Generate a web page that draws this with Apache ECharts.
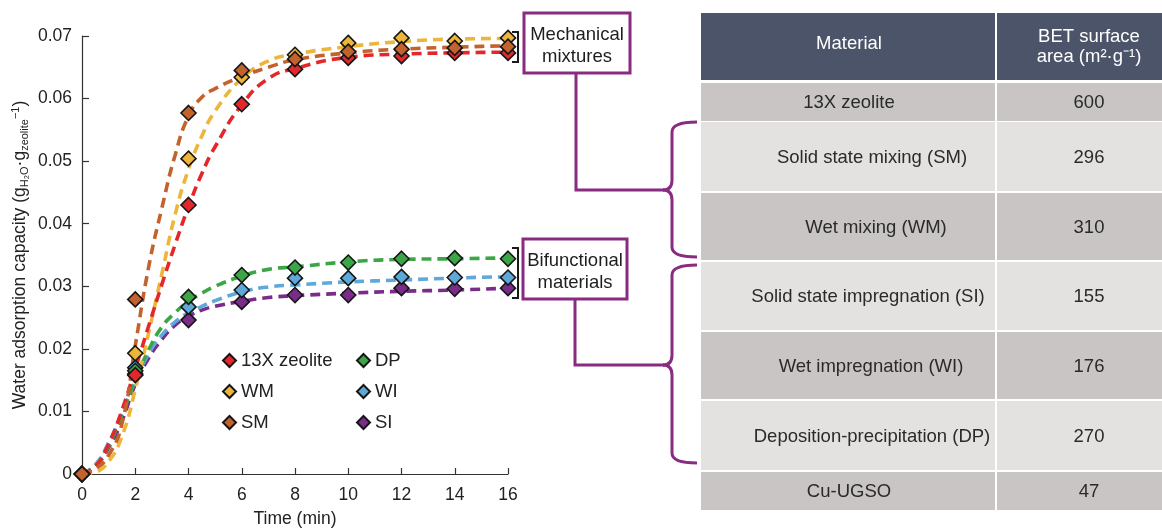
<!DOCTYPE html>
<html>
<head>
<meta charset="utf-8">
<script src="https://cdn.jsdelivr.net/npm/echarts@6/dist/echarts.min.js"></script>
<style>
  html, body { margin: 0; padding: 0; background: #ffffff; }
  #chart { width: 1162px; height: 528px; }
</style>
</head>
<body>
<div id="chart"></div>
<script>
// Measured water uptake (g H2O per g zeolite) at each sampling time (min)
const sampleTime = [0, 2, 4, 6, 8, 10, 12, 14, 16];
const zeolite13X = [0, 0.0158, 0.0430, 0.0591, 0.0647, 0.0665, 0.0668, 0.0673, 0.0673];
const wetMixing  = [0, 0.0193, 0.0504, 0.0634, 0.0670, 0.0689, 0.0697, 0.0692, 0.0697];
const solidMixing = [0, 0.0279, 0.0577, 0.0645, 0.0663, 0.0675, 0.0679, 0.0681, 0.0683];
const depPrecip  = [0, 0.0165, 0.0283, 0.0318, 0.0330, 0.0338, 0.0344, 0.0345, 0.0344];
const wetImpreg  = [0, 0.0170, 0.0267, 0.0294, 0.0313, 0.0313, 0.0315, 0.0314, 0.0314];
const solidImpreg = [0, 0.0160, 0.0246, 0.0275, 0.0286, 0.0286, 0.0297, 0.0296, 0.0297];

// Fitted kinetic curves (dashed), sampled along time
const fitTime = [0, 0.5, 1, 1.5, 2, 2.5, 3, 3.5, 4, 4.5, 5, 6, 7, 8, 10, 12, 14, 16, 16.8];
const fit13X = [0, 0.0012, 0.0048, 0.0102, 0.0168, 0.0236, 0.0303, 0.0367, 0.0427, 0.0480, 0.0523, 0.0590, 0.0632, 0.0648, 0.0666, 0.0671, 0.0673, 0.0674, 0.0674];
const fitWM  = [0, 0.0003, 0.0020, 0.0060, 0.0135, 0.0225, 0.0320, 0.0415, 0.0487, 0.0540, 0.0580, 0.0632, 0.0660, 0.0671, 0.0683, 0.0691, 0.0695, 0.0696, 0.0696];
const fitSM  = [0, 0.0008, 0.0030, 0.0080, 0.0205, 0.0330, 0.0425, 0.0510, 0.0572, 0.0602, 0.0616, 0.0635, 0.0650, 0.0662, 0.0673, 0.0679, 0.0682, 0.0684, 0.0684];
const fitDP  = [0, 0.0012, 0.0045, 0.0095, 0.0150, 0.0198, 0.0235, 0.0258, 0.0276, 0.0289, 0.0300, 0.0316, 0.0327, 0.0331, 0.0339, 0.0343, 0.0344, 0.0345, 0.0345];
const fitWI  = [0, 0.0015, 0.0050, 0.0098, 0.0148, 0.0192, 0.0222, 0.0243, 0.0258, 0.0268, 0.0277, 0.0291, 0.0299, 0.0302, 0.0307, 0.0310, 0.0313, 0.0315, 0.0315];
const fitSI  = [0, 0.0012, 0.0042, 0.0085, 0.0143, 0.0185, 0.0215, 0.0238, 0.0252, 0.0262, 0.0268, 0.0276, 0.0282, 0.0285, 0.0289, 0.0292, 0.0294, 0.0297, 0.0298];

// BET table
const tableHeader = ['Material', 'BET surface\narea (m²·g⁻¹)'];
const tableMaterials = ['13X zeolite', 'Solid state mixing (SM)', 'Wet mixing (WM)',
  'Solid state impregnation (SI)', 'Wet impregnation (WI)', 'Deposition-precipitation (DP)', 'Cu-UGSO'];
const tableBET = [600, 296, 310, 155, 176, 270, 47];

const groupLabels = [['Mechanical', 'mixtures'], ['Bifunctional', 'materials']];

const FONT = '"Liberation Sans", Arial, Helvetica, sans-serif';
const PURPLE = '#8a2b82';
const TABLE_FONT = '18.5px ' + FONT;

const colors = {
  '13X zeolite': '#e3272b',
  'WM': '#edb53a',
  'SM': '#c3622c',
  'DP': '#3ca646',
  'WI': '#5ea8da',
  'SI': '#7a2c88'
};

function pairs(xs, ys) { return xs.map((x, i) => [x, ys[i]]); }

function fitSeries(name, ys) {
  return {
    type: 'line', name: name + ' fit', data: pairs(fitTime, ys),
    smooth: 0.5, showSymbol: false, symbol: 'none',
    clip: false, silent: true, z: 2,
    lineStyle: { color: colors[name], width: 3.6, type: [10, 6], cap: 'butt' }
  };
}

function markerSeries(name, ys) {
  return {
    type: 'scatter', name: name, data: pairs(sampleTime, ys),
    symbol: 'diamond', symbolSize: 15, z: 4, clip: false,
    itemStyle: { color: colors[name], borderColor: '#161616', borderWidth: 1.6, opacity: 1 }
  };
}

// Table layout
const tableLeft = 701, tableSplit = 996, tableRight = 1182;
const rowBounds = [[83, 121], [122, 191], [193, 260], [262, 330], [332, 399], [401, 470], [472, 510]];
const rowFill = ['#c9c5c5', '#e4e1e1', '#c9c5c5', '#e4e1e1', '#c9c5c5', '#e4e1e1', '#c9c5c5'];
const rowTextX = [849, 872, 876, 868, 871, 872, 849];

const graphics = [];
// header
graphics.push({ type: 'rect', shape: { x: tableLeft, y: 13, width: tableSplit - tableLeft - 1, height: 67 }, style: { fill: '#4c5469' }, z: 0 });
graphics.push({ type: 'rect', shape: { x: tableSplit + 1, y: 13, width: tableRight - tableSplit, height: 67 }, style: { fill: '#4c5469' }, z: 0 });
graphics.push({ type: 'text', x: 849, y: 44, style: { text: tableHeader[0], font: TABLE_FONT, fill: '#ffffff', align: 'center', verticalAlign: 'middle' }, z: 1 });
graphics.push({ type: 'text', x: 1089, y: 47, style: { text: tableHeader[1], font: TABLE_FONT, fill: '#ffffff', align: 'center', verticalAlign: 'middle', lineHeight: 20 }, z: 1 });
// body rows
tableMaterials.forEach((m, i) => {
  const [y0, y1] = rowBounds[i];
  graphics.push({ type: 'rect', shape: { x: tableLeft, y: y0, width: tableSplit - tableLeft - 1, height: y1 - y0 }, style: { fill: rowFill[i] }, z: 0 });
  graphics.push({ type: 'rect', shape: { x: tableSplit + 1, y: y0, width: tableRight - tableSplit, height: y1 - y0 }, style: { fill: rowFill[i] }, z: 0 });
  graphics.push({ type: 'text', x: rowTextX[i], y: (y0 + y1) / 2 + 1, style: { text: m, font: TABLE_FONT, fill: '#2a2a2a', align: 'center', verticalAlign: 'middle' }, z: 1 });
  graphics.push({ type: 'text', x: 1089, y: (y0 + y1) / 2 + 1, style: { text: String(tableBET[i]), font: TABLE_FONT, fill: '#2a2a2a', align: 'center', verticalAlign: 'middle' }, z: 1 });
});

// group boxes
const boxes = [
  { x: 524, y: 13, w: 106, h: 60, cx: 577 },
  { x: 523, y: 239, w: 104, h: 60, cx: 575 }
];
boxes.forEach((b, i) => {
  graphics.push({ type: 'rect', shape: { x: b.x, y: b.y, width: b.w, height: b.h }, style: { fill: '#ffffff', stroke: PURPLE, lineWidth: 3 }, z: 0 });
  graphics.push({ type: 'text', x: b.cx, y: b.y + 22, style: { text: groupLabels[i][0], font: TABLE_FONT, fill: '#1e1e1e', align: 'center', verticalAlign: 'middle' }, z: 1 });
  graphics.push({ type: 'text', x: b.cx, y: b.y + 44, style: { text: groupLabels[i][1], font: TABLE_FONT, fill: '#1e1e1e', align: 'center', verticalAlign: 'middle' }, z: 1 });
});

// connectors from boxes to braces
const purpleLine = { stroke: PURPLE, lineWidth: 3, fill: null };
graphics.push({ type: 'polyline', shape: { points: [[576, 73], [576, 190], [664, 190]] }, style: purpleLine, z: 1 });
graphics.push({ type: 'polyline', shape: { points: [[575, 299], [575, 365], [664, 365]] }, style: purpleLine, z: 1 });

// curly braces beside table rows
function brace(top, mid, bottom) {
  const x = 672, hook = 697, r = 10;
  graphics.push({ type: 'bezierCurve', shape: { x1: hook, y1: top, cpx1: x, cpy1: top, x2: x, y2: top + r }, style: purpleLine, z: 1 });
  graphics.push({ type: 'line', shape: { x1: x, y1: top + r, x2: x, y2: mid - r }, style: purpleLine, z: 1 });
  graphics.push({ type: 'bezierCurve', shape: { x1: x, y1: mid - r, cpx1: x, cpy1: mid, x2: x - 9, y2: mid }, style: purpleLine, z: 1 });
  graphics.push({ type: 'bezierCurve', shape: { x1: x - 9, y1: mid, cpx1: x, cpy1: mid, x2: x, y2: mid + r }, style: purpleLine, z: 1 });
  graphics.push({ type: 'line', shape: { x1: x, y1: mid + r, x2: x, y2: bottom - r }, style: purpleLine, z: 1 });
  graphics.push({ type: 'bezierCurve', shape: { x1: x, y1: bottom - r, cpx1: x, cpy1: bottom, x2: hook, y2: bottom }, style: purpleLine, z: 1 });
}
brace(122, 190, 257);
brace(265, 365, 463);

// black brackets grouping the curve ends
const blackLine = { stroke: '#1a1a1a', lineWidth: 2, fill: null };
graphics.push({ type: 'polyline', shape: { points: [[512, 32], [518, 32], [518, 62], [512, 62]] }, style: blackLine, z: 5 });
graphics.push({ type: 'polyline', shape: { points: [[512, 248], [518, 248], [518, 298], [512, 298]] }, style: blackLine, z: 5 });

const legendText = { fontSize: 18.5, color: '#222', fontFamily: FONT };

const option = {
  animation: false,
  backgroundColor: '#ffffff',
  textStyle: { fontFamily: FONT },
  grid: { left: 82, right: 654, top: 36, bottom: 54, outerBoundsMode: 'none' },
  legend: [
    {
      data: ['13X zeolite', 'WM', 'SM'], orient: 'vertical', left: 217, top: 346,
      itemWidth: 13, itemHeight: 13, itemGap: 12, icon: 'diamond',
      textStyle: legendText, selectedMode: false
    },
    {
      data: ['DP', 'WI', 'SI'], orient: 'vertical', left: 351, top: 346,
      itemWidth: 13, itemHeight: 13, itemGap: 12, icon: 'diamond',
      textStyle: legendText, selectedMode: false
    }
  ],
  xAxis: {
    type: 'value', min: 0, max: 16, interval: 2,
    name: 'Time (min)', nameLocation: 'middle', nameGap: 36,
    nameTextStyle: { fontSize: 17.5, color: '#222', fontFamily: FONT },
    axisLine: { show: true, onZero: false, lineStyle: { color: '#333', width: 1.2 } },
    axisTick: { show: true, inside: true, length: 6, lineStyle: { color: '#333', width: 1.2 } },
    axisLabel: { fontSize: 17.5, color: '#222', margin: 12, fontFamily: FONT },
    splitLine: { show: false }
  },
  yAxis: {
    type: 'value', min: 0, max: 0.07, interval: 0.01,
    name: '{a|Water adsorption capacity (g}{s|H₂O}{a|·g}{s|zeolite}{p|−1}{a|)}',
    nameLocation: 'middle', nameGap: 52, nameRotate: 90,
    nameTextStyle: {
      color: '#222', fontFamily: FONT,
      rich: {
        a: { fontSize: 17.5, color: '#222', fontFamily: FONT, lineHeight: 20 },
        s: { fontSize: 11, color: '#222', fontFamily: FONT, lineHeight: 20, verticalAlign: 'bottom' },
        p: { fontSize: 11, color: '#222', fontFamily: FONT, lineHeight: 20, verticalAlign: 'top' }
      }
    },
    axisLine: { show: true, lineStyle: { color: '#333', width: 1.2 } },
    axisTick: { show: true, inside: true, length: 7, lineStyle: { color: '#333', width: 1.2 } },
    axisLabel: {
      fontSize: 17.5, color: '#222', margin: 10, fontFamily: FONT,
      formatter: v => (v === 0 ? '0' : v.toFixed(2))
    },
    splitLine: { show: false }
  },
  graphic: { elements: graphics },
  series: [
    fitSeries('SI', fitSI),
    fitSeries('WI', fitWI),
    fitSeries('DP', fitDP),
    fitSeries('WM', fitWM),
    fitSeries('13X zeolite', fit13X),
    fitSeries('SM', fitSM),
    markerSeries('SI', solidImpreg),
    markerSeries('WI', wetImpreg),
    markerSeries('DP', depPrecip),
    markerSeries('WM', wetMixing),
    markerSeries('13X zeolite', zeolite13X),
    markerSeries('SM', solidMixing)
  ]
};

const chart = echarts.init(document.getElementById('chart'), null, { renderer: 'canvas' });
chart.setOption(option);
</script>
</body>
</html>
